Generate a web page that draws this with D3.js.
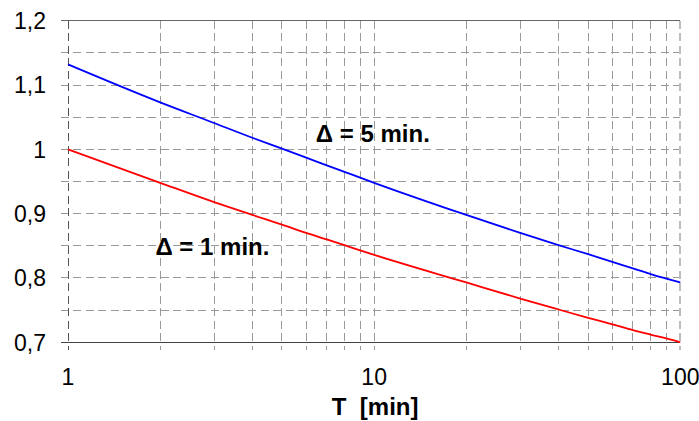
<!DOCTYPE html>
<html>
<head>
<meta charset="utf-8">
<script src="https://cdn.jsdelivr.net/npm/d3@7"></script>
<style>
  html, body { margin: 0; padding: 0; background: #fff; }
  svg { display: block; }
  text { font-family: "Liberation Sans", Arial, Helvetica, sans-serif; fill: #000; }
</style>
</head>
<body>
<script>
// Period T in minutes (log axis) and the two curves, one per interval Δ.
const periods = [1, 2, 3, 4, 5, 6, 7, 8, 9, 10, 20, 30, 40, 50, 60, 70, 80, 90, 100];
const delta5 = [1.132, 1.073, 1.041, 1.018, 1.001, 0.987, 0.975, 0.965, 0.956, 0.948,
                0.898, 0.870, 0.851, 0.837, 0.825, 0.815, 0.806, 0.799, 0.793];
const delta1 = [1.000, 0.948, 0.918, 0.898, 0.883, 0.870, 0.860, 0.851, 0.843, 0.836,
                0.793, 0.768, 0.751, 0.738, 0.728, 0.719, 0.712, 0.706, 0.700];
const xTickLabels = ["1", "10", "100"];
const yTickValues = [0.7, 0.8, 0.9, 1.0, 1.1, 1.2];
const yTickLabels = ["0,7", "0,8", "0,9", "1", "1,1", "1,2"];
const seriesNames = ["\u0394 = 5 min.", "\u0394 = 1 min."];
const xTitle = "T  [min]";

(function () {
const W = 699, H = 421;
const svg = d3.select("body").append("svg").attr("width", W).attr("height", H);

const x = d3.scaleLog().domain([1, 100]).range([68, 680.3]);
const y = d3.scaleLinear().domain([0.7, 1.2]).range([342.3, 20.7]);

const xL = x.range()[0], xR = x.range()[1];
const yT = y.range()[1], yB = y.range()[0];
const tickLen = 7.5;
const dash = "8,4.5";

const grid = svg.append("g").attr("shape-rendering", "crispEdges");

// horizontal grid lines every 0.05
const hVals = d3.range(0.75, 1.2, 0.05).map(v => +v.toFixed(2));
grid.selectAll("line.h").data(hVals).join("line")
  .attr("x1", xL - tickLen).attr("x2", xR)
  .attr("y1", d => y(d)).attr("y2", d => y(d))
  .attr("stroke", "#9a9a9a").attr("stroke-width", 1).attr("stroke-dasharray", dash);

// vertical grid lines at each minor and decade step
const vVals = [2, 3, 4, 5, 6, 7, 8, 9, 10, 20, 30, 40, 50, 60, 70, 80, 90];
grid.selectAll("line.v").data(vVals).join("line")
  .attr("x1", d => x(d)).attr("x2", d => x(d))
  .attr("y1", yT).attr("y2", yB + tickLen)
  .attr("stroke", "#9a9a9a").attr("stroke-width", 1).attr("stroke-dasharray", dash);

// right frame, light dashed
grid.append("line")
  .attr("x1", xR).attr("x2", xR)
  .attr("y1", yT).attr("y2", yB + tickLen)
  .attr("stroke", "#bdbdbd").attr("stroke-width", 2).attr("stroke-dasharray", dash);

// left axis, dark dashed
grid.append("line")
  .attr("x1", xL).attr("x2", xL)
  .attr("y1", yT).attr("y2", yB + tickLen)
  .attr("stroke", "#555").attr("stroke-width", 1).attr("stroke-dasharray", dash);

// top frame and bottom axis, solid
grid.append("line")
  .attr("x1", xL - tickLen).attr("x2", xR)
  .attr("y1", yT).attr("y2", yT)
  .attr("stroke", "#666").attr("stroke-width", 1);
grid.append("line")
  .attr("x1", xL - tickLen).attr("x2", xR)
  .attr("y1", yB).attr("y2", yB)
  .attr("stroke", "#444").attr("stroke-width", 1);

// curves
const line = d3.line().x(d => x(d[0])).y(d => y(d[1])).curve(d3.curveMonotoneX);
svg.append("path").datum(periods.map((t, i) => [t, delta5[i]]))
  .attr("d", line).attr("fill", "none").attr("stroke", "#0000ff").attr("stroke-width", 1.8);
svg.append("path").datum(periods.map((t, i) => [t, delta1[i]]))
  .attr("d", line).attr("fill", "none").attr("stroke", "#ff0000").attr("stroke-width", 1.8);

// y tick labels
svg.selectAll("text.yl").data(yTickValues).join("text")
  .attr("x", 46).attr("y", d => y(d)).attr("dy", "0.36em")
  .attr("text-anchor", "end").attr("font-size", 23)
  .text((d, i) => yTickLabels[i]);

// x tick labels
svg.selectAll("text.xl").data([1, 10, 100]).join("text")
  .attr("x", d => x(d)).attr("y", 385)
  .attr("text-anchor", "middle").attr("font-size", 23)
  .text((d, i) => xTickLabels[i]);

// x axis title
svg.append("text")
  .attr("x", (xL + xR) / 2 + 1).attr("y", 415)
  .attr("text-anchor", "middle").attr("font-size", 24).attr("font-weight", "bold")
  .style("white-space", "pre")
  .text(xTitle);

// curve labels
svg.append("text")
  .attr("x", x(6.45)).attr("y", y(1.012))
  .attr("font-size", 24).attr("font-weight", "bold")
  .text(seriesNames[0]);
svg.append("text")
  .attr("x", x(1.93)).attr("y", y(0.8357))
  .attr("font-size", 24).attr("font-weight", "bold")
  .text(seriesNames[1]);
})();
</script>
</body>
</html>
